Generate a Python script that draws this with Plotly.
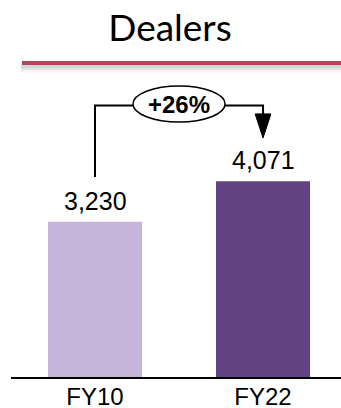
import plotly.graph_objects as go

# data
categories = ["FY10", "FY22"]
dealers = [3230, 4071]
growth_label = "+26%"
title_text = "Dealers"

BAR_COLORS = ["#C4B5D9", "#614283"]
RULE_COLOR = "#B4465A"

# plot area in pixels: x 11..341, y 70..377
Y_MAX = 6383

fig = go.Figure(
    go.Bar(
        x=list(range(len(categories))), y=dealers,
        marker_color=BAR_COLORS, marker_line_width=0,
        width=0.56, cliponaxis=False,
    )
)

# value labels above the bars
for i, v in enumerate(dealers):
    fig.add_annotation(
        x=i, y=v, text=f"{v:,}", showarrow=False,
        yanchor="bottom", yshift=5,
        font=dict(family="Arial, Liberation Sans", size=25, color="#000000"),
    )

# connector from bar 1 to bar 2
x_a, x_b = 0, 1
y_start = dealers[0] + 930
y_conn = 5645
y_head_top = 5470
y_tip = 4970
fig.add_shape(
    type="path",
    path=f"M {x_a},{y_start} L {x_a},{y_conn} L {x_b},{y_conn} L {x_b},{y_head_top}",
    line=dict(color="#000000", width=2),
)
fig.add_shape(
    type="path",
    path=f"M {x_b - 0.047},{y_head_top} L {x_b + 0.047},{y_head_top} L {x_b},{y_tip} Z",
    fillcolor="#000000", line=dict(color="#000000", width=1),
)
fig.add_shape(
    type="circle", x0=0.226, x1=0.774, y0=5300, y1=6050,
    fillcolor="#FFFFFF", line=dict(color="#000000", width=1.5),
)
fig.add_annotation(
    x=0.5, y=5675, text=f"<b>{growth_label}</b>", showarrow=False,
    font=dict(family="Arial, Liberation Sans", size=24, color="#000000"),
)

# header rule with soft shadow
shadow = ["#C9C9C9", "#D4D4D4", "#DEDEDE", "#E8E8E8", "#F1F1F1", "#F8F8F8"]
for i, c in enumerate(shadow):
    yp = (377 - (66 + i * 1.2)) / 307
    fig.add_shape(type="line", xref="paper", yref="paper",
                  x0=0.03, x1=1, y0=yp, y1=yp, line=dict(color=c, width=1.5))
fig.add_shape(type="line", xref="paper", yref="paper",
              x0=0.0333, x1=1, y0=(377 - 63) / 307, y1=(377 - 63) / 307,
              line=dict(color=RULE_COLOR, width=4))

fig.update_layout(
    title=dict(text=title_text, x=170 / 341, xanchor="center", xref="container",
               y=1 - 28 / 408, yanchor="middle",
               font=dict(family="Lato, Open Sans", size=37, color="#000000")),
    width=341, height=408,
    margin=dict(l=11, r=0, t=70, b=31),
    paper_bgcolor="#FFFFFF", plot_bgcolor="#FFFFFF",
    showlegend=False,
    xaxis=dict(
        range=[-0.5, 1.464], tickvals=list(range(len(categories))), ticktext=categories,
        showline=True, linecolor="#000000", linewidth=1.5,
        showgrid=False, zeroline=False, ticks="", ticklabelstandoff=-3,
        tickfont=dict(family="Arial, Liberation Sans", size=24, color="#000000"),
        automargin=False, fixedrange=True,
    ),
    yaxis=dict(range=[0, Y_MAX], visible=False, fixedrange=True),
)

fig.write_html(
    "out.html", config={"displayModeBar": False},
    post_script="document.body.style.margin='0';",
)
